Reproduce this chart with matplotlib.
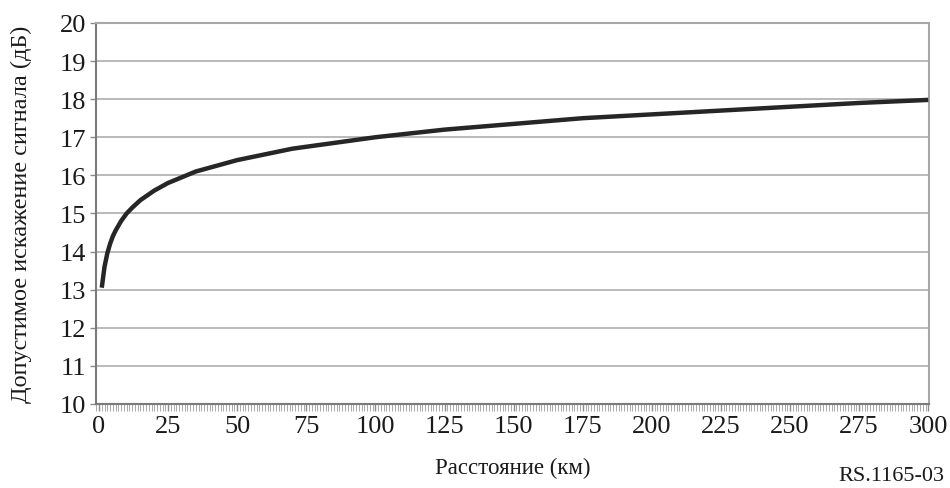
import matplotlib.pyplot as plt
from matplotlib.ticker import MultipleLocator

# distance (km) and permitted signal distortion (dB)
distance_km = [1, 2, 3, 4, 5, 6, 8, 10, 12, 15, 20, 25, 30, 35, 40, 50, 60, 70,
               80, 90, 100, 125, 150, 175, 200, 225, 250, 275, 300]
distortion_db = [13.05, 13.6, 13.95, 14.2, 14.4, 14.55, 14.8, 15.0, 15.15, 15.35,
                 15.6, 15.8, 15.95, 16.1, 16.2, 16.4, 16.55, 16.7, 16.8, 16.9,
                 17.0, 17.2, 17.35, 17.5, 17.6, 17.7, 17.8, 17.9, 17.98]

x_ticks = list(range(0, 301, 25))
y_ticks = list(range(10, 21))

plt.rcParams["font.family"] = ["Liberation Serif", "DejaVu Serif"]

fig = plt.figure(figsize=(9.5, 4.89), dpi=100, facecolor="white")
ax = fig.add_axes([0.101, 0.172, 0.877, 0.779])

ax.plot(distance_km, distortion_db, color="#262626", linewidth=3.2,
        solid_joinstyle="round", solid_capstyle="butt", zorder=3)

ax.set_xlim(-1.1, 300.3)
ax.set_ylim(10, 20)
ax.set_xticks(x_ticks)
ax.set_yticks(y_ticks)
ax.xaxis.set_minor_locator(MultipleLocator(1))

ax.grid(axis="y", color="#b4b4b4", linewidth=1.3, zorder=1)
ax.set_axisbelow(True)

for side, s in ax.spines.items():
    if side in ("left", "bottom"):
        s.set_color("#7a7a7a")
        s.set_linewidth(1.5)
    else:
        s.set_color("#a8a8a8")
        s.set_linewidth(1.5)

ax.tick_params(axis="both", which="major", direction="out", length=4, width=1.0,
               color="#8a8a8a", labelsize=19, labelcolor="#1a1a1a", pad=3)
ax.tick_params(axis="x", which="minor", direction="out", length=5, width=0.6,
               color="#9a9a9a")
ax.tick_params(axis="x", which="major", length=5, pad=3)

ax.set_ylabel("Допустимое искажение сигнала (дБ)", fontsize=17.5, color="#1a1a1a",
              labelpad=20)
ax.set_xlabel("Расстояние (км)", fontsize=16.5, color="#1a1a1a", labelpad=14)

fig.text(0.994, 0.006, "RS.1165-03", ha="right", va="bottom", fontsize=16,
         color="#1a1a1a")

fig.savefig("out.png", dpi=100, facecolor="white")
plt.close(fig)
